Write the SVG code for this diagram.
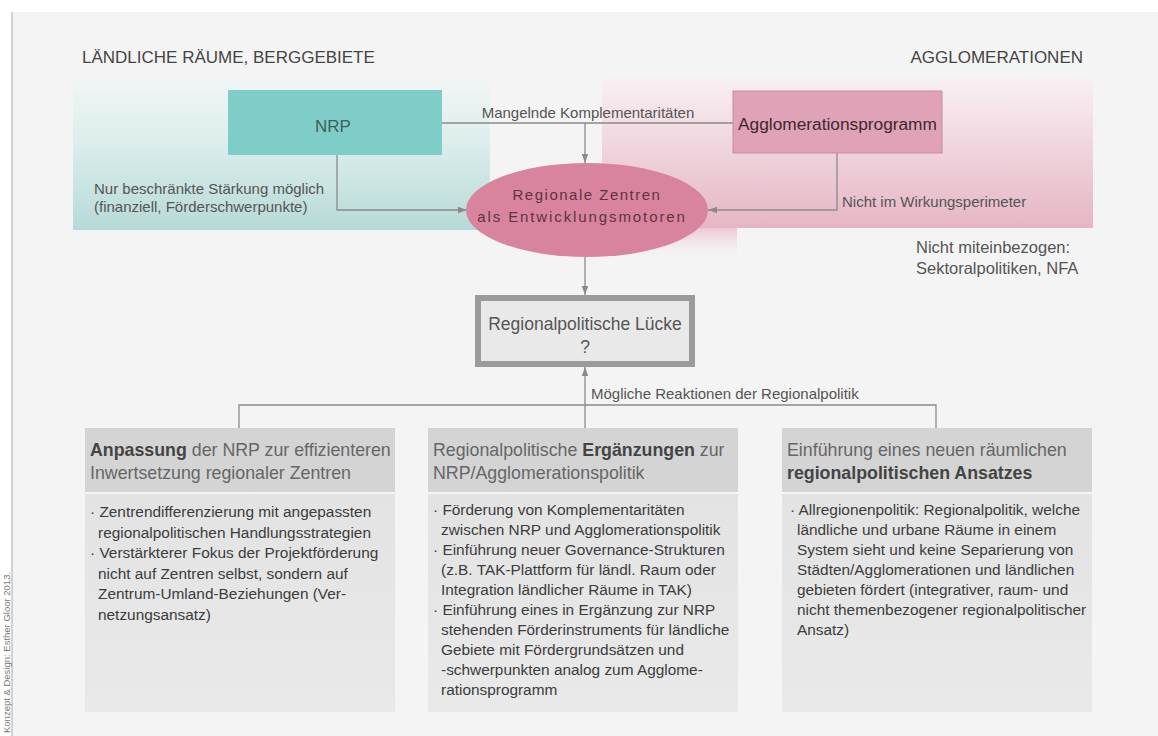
<svg xmlns="http://www.w3.org/2000/svg" width="1158" height="736" viewBox="0 0 1158 736">
<defs>
<style>
text{font-family:"Liberation Sans",Arial,sans-serif}
.lbl{font-size:15px;fill:#555}
.ttl{font-size:17px;fill:#444}
.conn{fill:none;stroke:#8a8a8a;stroke-width:1.3}
.hdr{font-size:17.8px;fill:#666}
.hdr tspan.b{font-weight:bold;fill:#444}
.body{font-size:15.4px;fill:#3c3c3c}
.boxh{fill:#d4d4d4}
.boxb{fill:url(#gBody)}
</style>
<linearGradient id="gTeal" x1="0" y1="0" x2="0" y2="1">
<stop offset="0" stop-color="#f1f6f5"/>
<stop offset="0.45" stop-color="#dbedeb"/>
<stop offset="1" stop-color="#b6dad7"/>
</linearGradient>
<linearGradient id="gPink" x1="0" y1="0" x2="0" y2="1">
<stop offset="0" stop-color="#f8f0f2"/>
<stop offset="0.45" stop-color="#f0d6de"/>
<stop offset="1" stop-color="#e6b5c4"/>
</linearGradient>
<linearGradient id="gPinkLow" x1="0" y1="0" x2="0" y2="1">
<stop offset="0" stop-color="#ecc6d2"/>
<stop offset="1" stop-color="#f4f4f4" stop-opacity="0"/>
</linearGradient>
<linearGradient id="gBody" x1="0" y1="0" x2="0" y2="1">
<stop offset="0" stop-color="#e3e3e3"/>
<stop offset="1" stop-color="#e9e9e9"/>
</linearGradient>
<marker id="arr" markerWidth="10" markerHeight="8" refX="9" refY="4" orient="auto" markerUnits="userSpaceOnUse">
<path d="M0,0.8 L9,4 L0,7.2 Z" fill="#8a8a8a"/>
</marker>
</defs>

<!-- page -->
<rect x="0" y="0" width="1158" height="736" fill="#ffffff"/>
<rect x="12" y="12" width="1146" height="724" fill="#f4f4f4"/>
<line x1="12" y1="12" x2="12" y2="736" stroke="#aaaaaa" stroke-width="1"/>
<text x="0" y="0" transform="translate(10,733) rotate(-90)" font-size="9.5" fill="#777">Konzept &amp; Design: Esther Gloor 2013.</text>

<!-- regions -->
<g id="region-rural">
<rect x="73" y="78" width="417" height="152" fill="url(#gTeal)"/>
<text class="ttl" x="82" y="63">LÄNDLICHE RÄUME, BERGGEBIETE</text>
</g>
<g id="region-agglo">
<rect x="602" y="78" width="491" height="150" fill="url(#gPink)"/>
<rect x="602" y="228" width="135" height="32" fill="url(#gPinkLow)"/>
<text class="ttl" x="1083" y="63" text-anchor="end">AGGLOMERATIONEN</text>
</g>

<!-- connectors -->
<g id="connectors">
<path class="conn" d="M442,123 H733"/>
<path class="conn" d="M585,123 V163" marker-end="url(#arr)"/>
<path class="conn" d="M337,155 V210 H467" marker-end="url(#arr)"/>
<path class="conn" d="M837,153 V210 H708" marker-end="url(#arr)"/>
<path class="conn" d="M585,257 V295" marker-end="url(#arr)"/>
<path class="conn" d="M239,428 V405 H936 V428"/>
<path class="conn" d="M585,428 V367" marker-end="url(#arr)"/>
<text class="lbl" x="588" y="118" text-anchor="middle">Mangelnde Komplementaritäten</text>
<text class="lbl" x="94" y="194">Nur beschränkte Stärkung möglich</text>
<text class="lbl" x="94" y="212">(finanziell, Förderschwerpunkte)</text>
<text class="lbl" x="842" y="207">Nicht im Wirkungsperimeter</text>
<text class="lbl" x="591" y="399">Mögliche Reaktionen der Regionalpolitik</text>
</g>

<!-- nodes -->
<g id="node-nrp">
<rect x="228" y="90" width="214" height="65" fill="#7fcdc8"/>
<text x="333" y="132" font-size="17" fill="#3f5f5c" text-anchor="middle">NRP</text>
</g>

<g id="node-agglo">
<rect x="733" y="91" width="209" height="62" fill="#dfa2b6" stroke="#c88a9f" stroke-width="1"/>
<text x="837.5" y="130" font-size="17.3" fill="#3a2a30" text-anchor="middle">Agglomerationsprogramm</text>
</g>

<g id="node-zentren">
<ellipse cx="587" cy="210" rx="121" ry="47" fill="#d8849f"/>
<text x="587" y="200" font-size="15" fill="#5e3440" text-anchor="middle" letter-spacing="1.5">Regionale Zentren</text>
<text x="582" y="222" font-size="15" fill="#5e3440" text-anchor="middle" letter-spacing="1.9">als Entwicklungsmotoren</text>
</g>

<g id="node-nicht">
<text x="916" y="253" font-size="16.5" fill="#555">Nicht miteinbezogen:</text>
<text x="916" y="274" font-size="16.5" fill="#555">Sektoralpolitiken, NFA</text>
</g>

<g id="node-luecke">
<rect x="478" y="298" width="214" height="66" fill="#e9e9e9" stroke="#9b9b9b" stroke-width="6"/>
<text x="585" y="330" font-size="17.5" fill="#555" text-anchor="middle">Regionalpolitische Lücke</text>
<text x="585" y="353" font-size="17.5" fill="#555" text-anchor="middle">?</text>
</g>

<g id="node-anpassung">
<rect class="boxh" x="85" y="428" width="310" height="64"/>
<rect class="boxb" x="85" y="494" width="310" height="218"/>
<text class="hdr" x="90" y="456"><tspan class="b">Anpassung</tspan> der NRP zur effizienteren</text>
<text class="hdr" x="90" y="479">Inwertsetzung regionaler Zentren</text>
<text class="body" x="90" y="517">· Zentrendifferenzierung mit angepassten</text>
<text class="body" x="98" y="537.5">regionalpolitischen Handlungsstrategien</text>
<text class="body" x="90" y="558">· Verstärkterer Fokus der Projektförderung</text>
<text class="body" x="98" y="578.5">nicht auf Zentren selbst, sondern auf</text>
<text class="body" x="98" y="599">Zentrum-Umland-Beziehungen (Ver-</text>
<text class="body" x="98" y="619.5">netzungsansatz)</text>
</g>

<g id="node-ergaenzungen">
<rect class="boxh" x="428" y="428" width="310" height="64"/>
<rect class="boxb" x="428" y="494" width="310" height="218"/>
<text class="hdr" x="433" y="456">Regionalpolitische <tspan class="b">Ergänzungen</tspan> zur</text>
<text class="hdr" x="433" y="479">NRP/Agglomerationspolitik</text>
<text class="body" x="433" y="515">· Förderung von Komplementaritäten</text>
<text class="body" x="441" y="535">zwischen NRP und Agglomerationspolitik</text>
<text class="body" x="433" y="555">· Einführung neuer Governance-Strukturen</text>
<text class="body" x="441" y="575">(z.B. TAK-Plattform für ländl. Raum oder</text>
<text class="body" x="441" y="595">Integration ländlicher Räume in TAK)</text>
<text class="body" x="433" y="615">· Einführung eines in Ergänzung zur NRP</text>
<text class="body" x="441" y="635">stehenden Förderinstruments für ländliche</text>
<text class="body" x="441" y="655">Gebiete mit Fördergrundsätzen und</text>
<text class="body" x="441" y="675">-schwerpunkten analog zum Agglome-</text>
<text class="body" x="441" y="695">rationsprogramm</text>
</g>

<g id="node-ansatz">
<rect class="boxh" x="782" y="428" width="310" height="64"/>
<rect class="boxb" x="782" y="494" width="310" height="218"/>
<text class="hdr" x="787" y="456">Einführung eines neuen räumlichen</text>
<text class="hdr" x="787" y="479"><tspan class="b">regionalpolitischen Ansatzes</tspan></text>
<text class="body" x="790" y="515">· Allregionenpolitik: Regionalpolitik, welche</text>
<text class="body" x="797" y="535">ländliche und urbane Räume in einem</text>
<text class="body" x="797" y="555">System sieht und keine Separierung von</text>
<text class="body" x="797" y="575">Städten/Agglomerationen und ländlichen</text>
<text class="body" x="797" y="595">gebieten fördert (integrativer, raum- und</text>
<text class="body" x="797" y="615">nicht themenbezogener regionalpolitischer</text>
<text class="body" x="797" y="635">Ansatz)</text>
</g>
</svg>
